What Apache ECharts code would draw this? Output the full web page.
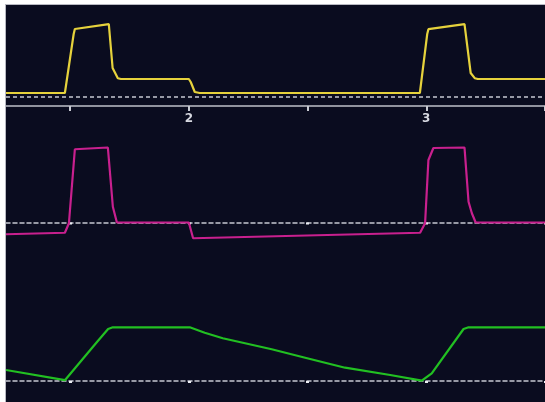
<!DOCTYPE html>
<html>
<head>
<meta charset="utf-8">
<script src="https://cdn.jsdelivr.net/npm/echarts@6/dist/echarts.min.js"></script>
<style>
  html, body { margin: 0; padding: 0; background: #ffffff; }
  #chart {
    position: absolute; left: 5px; top: 4px;
    width: 539px; height: 397px;
    border-top: 1px solid #b8b9c2; border-left: 1px solid #b8b9c2;
  }
</style>
</head>
<body>
<div id="chart"></div>
<script>
// Time window (s) and axis ticks
const timeMin = 1.23;
const timeMax = 3.5;
const tickTimes = [1.5, 2, 2.5, 3, 3.5];
const labelTimes = [2, 3];

// Airway pressure (cmH2O)
const pressureTime  = [1.23, 1.478, 1.515, 1.52, 1.663, 1.679, 1.701, 1.714, 2.0, 2.008, 2.025, 2.046, 2.973, 3.004, 3.009, 3.161, 3.187, 3.204, 3.217, 3.5];
const pressureValue = [2.0, 2.0, 31.5, 34.0, 36.4, 14.5, 9.4, 9.0, 9.0, 7.5, 2.5, 2.0, 2.0, 31.5, 33.9, 36.4, 12.0, 9.4, 9.0, 9.0];

// Flow (L/min)
const flowTime  = [1.23, 1.478, 1.495, 1.52, 1.528, 1.659, 1.68, 1.697, 2.0, 2.018, 2.974, 2.995, 3.009, 3.03, 3.161, 3.178, 3.192, 3.208, 3.5];
const flowValue = [-9.4, -8.2, -0.6, 58.6, 60.0, 60.0, 12.6, 0, 0, -12.6, -8.2, -0.6, 50.0, 59.6, 60.0, 16.6, 7.4, 0, 0];

// Volume (mL)
const volumeTime  = [1.23, 1.478, 1.485, 1.614, 1.66, 1.68, 2.004, 2.067, 2.143, 2.349, 2.49, 2.658, 2.848, 2.981, 3.023, 3.157, 3.178, 3.5];
const volumeValue = [110, 8, 3, 393, 520, 537, 537, 483, 427, 317, 233, 133, 60, 3, 77, 520, 537, 537];

const zip = (xs, ys) => xs.map((x, i) => [x, ys[i]]);

const dotted = { color: '#c6c8d2', width: 1.5, type: [4, 3] };

function panelX(idx, opts) {
  return Object.assign({
    gridIndex: idx, type: 'value', min: timeMin, max: timeMax,
    splitLine: { show: false },
    axisLabel: { show: false }
  }, opts);
}

const chart = echarts.init(document.getElementById('chart'), null, { renderer: 'canvas' });
chart.setOption({
  animation: false,
  backgroundColor: '#0a0c1f',
  grid: [
    { left: 0, right: 0, top: 0, height: 101 },
    { left: 0, right: 0, top: 117.5, height: 130 },
    { left: 0, right: 0, top: 276, height: 120 }
  ],
  xAxis: [
    panelX(0, {
      axisLine: { show: true, onZero: false, lineStyle: { color: '#bfc1ca', width: 1.5 } },
      axisTick: { show: true, customValues: tickTimes, length: 5, lineStyle: { color: '#c8cad2', width: 2 } },
      axisLabel: { show: true, customValues: labelTimes, color: '#d6d8e0', fontSize: 12, margin: 7,
                   fontWeight: 'bold', fontFamily: 'DejaVu Sans', formatter: v => String(v) }
    }),
    panelX(1, {
      axisLine: { show: true, onZero: true, lineStyle: dotted },
      axisTick: { show: true, customValues: tickTimes, length: 2, lineStyle: { color: '#eceef4', width: 3 } }
    }),
    panelX(2, {
      axisLine: { show: true, onZero: true, lineStyle: dotted },
      axisTick: { show: true, customValues: tickTimes, length: 2, lineStyle: { color: '#eceef4', width: 3 } }
    })
  ],
  yAxis: [
    { gridIndex: 0, type: 'value', min: -4.5, max: 46, show: false, splitLine: { show: false } },
    { gridIndex: 1, type: 'value', min: -24, max: 80, show: false, splitLine: { show: false } },
    { gridIndex: 2, type: 'value', min: -200, max: 1000, show: false, splitLine: { show: false } }
  ],
  series: [
    {
      name: 'Pressure', type: 'line', xAxisIndex: 0, yAxisIndex: 0,
      data: zip(pressureTime, pressureValue), symbol: 'none',
      lineStyle: { color: '#e6d23c', width: 2.2 },
      markLine: {
        silent: true, symbol: ['none', 'none'], label: { show: false },
        lineStyle: dotted, data: [{ yAxis: 0 }]
      }
    },
    {
      name: 'Flow', type: 'line', xAxisIndex: 1, yAxisIndex: 1,
      data: zip(flowTime, flowValue), symbol: 'none',
      lineStyle: { color: '#c8208e', width: 2.2 }
    },
    {
      name: 'Volume', type: 'line', xAxisIndex: 2, yAxisIndex: 2,
      data: zip(volumeTime, volumeValue), symbol: 'none',
      lineStyle: { color: '#22c022', width: 2.2 }
    }
  ]
});
</script>
</body>
</html>
